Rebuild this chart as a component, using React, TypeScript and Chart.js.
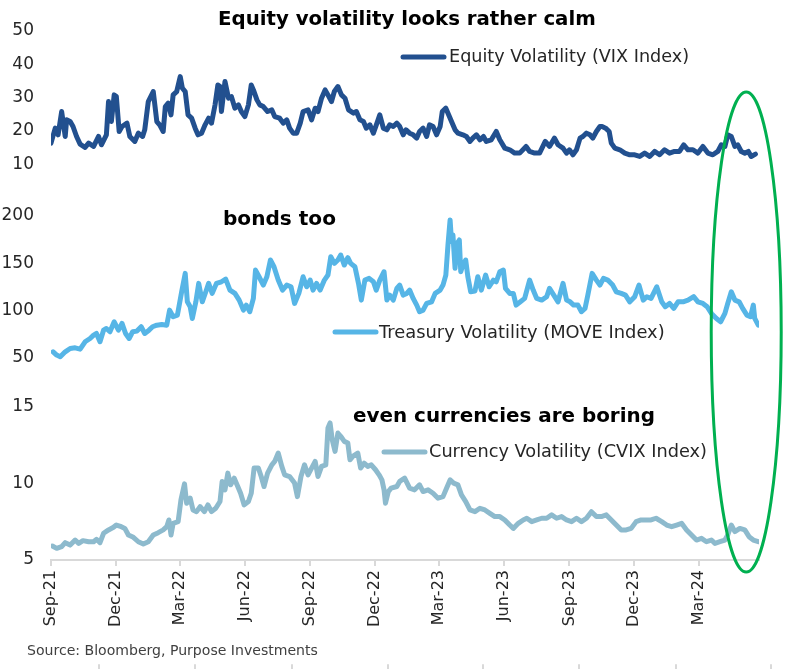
import React, { useEffect, useRef } from "react";
import { Chart, registerables } from "chart.js";

Chart.register(...registerables);

const FONT = '"DejaVu Sans", sans-serif';

// x axis: days since 1 Sep 2021
const START_DATE = "2021-09-01";
const tickDates = [
  "2021-09-01", "2021-12-01", "2022-03-01", "2022-06-01", "2022-09-01", "2022-12-01",
  "2023-03-01", "2023-06-01", "2023-09-01", "2023-12-01", "2024-03-01",
];
const tickLabels = [
  "Sep-21", "Dec-21", "Mar-22", "Jun-22", "Sep-22", "Dec-22",
  "Mar-23", "Jun-23", "Sep-23", "Dec-23", "Mar-24",
];
const axisEndDay = 997;

const vixTicks = [10, 20, 30, 40, 50];
const moveTicks = [50, 100, 150, 200];
const cvixTicks = [5, 10, 15];

const titles = ["Equity volatility looks rather calm", "bonds too", "even currencies are boring"];
const seriesNames = [
  "Equity Volatility (VIX Index)",
  "Treasury Volatility (MOVE Index)",
  "Currency Volatility (CVIX Index)",
];
const sourceText = "Source: Bloomberg, Purpose Investments";

// [day since start, value]
const vix: [number, number][] = [
  [0, 16.3], [6, 20.8], [10, 18.8], [15, 25.8], [20, 18.3], [22, 23.3], [27, 22.8], [31, 21.3],
  [36, 18.3], [41, 16.0], [48, 15.0], [53, 16.3], [60, 15.3], [67, 18.3], [71, 15.8], [78, 18.8],
  [81, 28.8], [85, 22.8], [89, 30.8], [92, 30.3], [96, 19.8], [100, 21.3], [107, 22.3], [111, 18.3],
  [118, 16.8], [123, 19.3], [129, 18.3], [132, 20.3], [137, 28.8], [144, 31.8], [149, 22.8], [153, 21.8],
  [158, 19.8], [161, 27.3], [165, 28.3], [169, 24.8], [172, 30.8], [177, 31.8], [182, 36.3], [185, 32.8],
  [189, 31.8], [193, 24.8], [198, 23.8], [203, 20.8], [207, 18.8], [212, 19.3], [217, 21.8], [222, 23.8],
  [226, 22.3], [231, 27.8], [235, 33.8], [238, 33.3], [240, 25.8], [245, 34.8], [250, 29.8], [254, 30.3],
  [259, 26.8], [264, 27.8], [268, 25.8], [273, 24.3], [278, 27.8], [282, 33.8], [285, 32.3], [290, 29.3],
  [294, 27.8], [299, 27.3], [305, 25.8], [311, 26.3], [315, 24.3], [322, 23.8], [327, 22.3], [332, 23.3],
  [336, 20.8], [341, 19.3], [346, 19.3], [351, 22.3], [355, 25.8], [362, 26.3], [367, 23.3], [372, 26.8],
  [376, 25.8], [381, 29.8], [386, 32.3], [390, 30.8], [395, 28.8], [399, 31.8], [404, 33.3], [409, 30.8],
  [414, 29.8], [419, 26.3], [426, 25.3], [430, 25.8], [435, 23.3], [440, 22.8], [444, 20.8], [449, 21.8],
  [454, 19.3], [459, 22.3], [463, 24.8], [468, 20.8], [473, 20.3], [477, 21.8], [482, 21.3], [487, 22.3],
  [491, 21.3], [496, 18.8], [500, 20.3], [505, 19.3], [510, 18.8], [515, 17.8], [519, 19.8], [524, 20.8],
  [529, 18.3], [533, 21.8], [538, 21.3], [543, 18.8], [548, 21.3], [551, 25.8], [556, 26.8], [561, 24.3],
  [564, 22.8], [569, 20.3], [573, 19.3], [580, 18.8], [585, 18.3], [590, 16.8], [594, 17.8], [599, 18.8],
  [604, 17.3], [609, 18.3], [613, 16.8], [620, 17.3], [627, 19.8], [632, 17.3], [639, 14.8], [646, 14.3],
  [653, 13.3], [660, 13.3], [669, 15.3], [674, 13.8], [681, 13.3], [688, 13.3], [696, 16.8], [702, 15.3],
  [709, 17.8], [714, 15.8], [721, 14.8], [726, 13.3], [730, 14.3], [735, 12.8], [740, 14.3], [745, 17.8],
  [749, 18.3], [754, 19.3], [759, 18.8], [763, 17.8], [768, 19.8], [773, 21.3], [776, 21.3], [781, 20.8],
  [786, 19.8], [789, 16.3], [794, 14.8], [801, 14.3], [808, 13.3], [815, 12.8], [822, 12.8], [829, 12.3],
  [836, 13.3], [843, 12.3], [850, 13.8], [857, 12.8], [864, 14.3], [871, 13.3], [878, 13.8], [885, 13.8],
  [891, 15.8], [897, 14.3], [904, 14.3], [911, 13.3], [918, 15.3], [925, 13.3], [932, 12.8], [939, 13.8],
  [944, 15.8], [949, 15.3], [953, 18.8], [958, 18.3], [963, 15.3], [967, 15.8], [972, 13.8], [977, 13.3],
  [982, 13.8], [986, 12.3], [992, 13.0],
];

const move: [number, number][] = [
  [3, 56.3], [8, 52.8], [13, 51.0], [20, 56.3], [27, 59.8], [34, 60.5], [41, 59.1], [48, 66.9],
  [55, 70.4], [60, 74.0], [64, 75.7], [69, 66.9], [74, 79.2], [78, 81.0], [83, 77.5], [89, 88.0],
  [95, 79.2], [100, 86.3], [105, 75.7], [110, 70.4], [115, 77.5], [121, 78.2], [127, 82.8], [132, 75.7],
  [138, 79.2], [143, 82.8], [149, 84.5], [156, 85.2], [163, 84.5], [167, 100.4], [172, 93.4], [178, 95.1],
  [184, 119.8], [189, 139.3], [192, 109.2], [196, 104.0], [199, 91.6], [204, 109.2], [208, 128.7], [213, 109.2],
  [218, 119.8], [222, 128.7], [227, 118.1], [233, 128.7], [240, 130.4], [246, 133.3], [252, 121.6], [259, 118.1],
  [265, 111.0], [271, 100.4], [275, 105.7], [280, 98.7], [285, 112.8], [288, 142.8], [293, 135.7], [299, 126.9],
  [304, 135.7], [309, 153.4], [314, 146.3], [320, 132.2], [326, 121.6], [332, 126.9], [338, 125.1], [343, 107.5],
  [349, 118.1], [355, 135.7], [360, 125.1], [365, 132.2], [369, 121.6], [374, 128.7], [379, 121.6], [385, 132.2],
  [390, 137.5], [394, 156.9], [399, 149.9], [404, 153.4], [408, 158.7], [413, 148.1], [418, 155.9], [422, 149.9],
  [428, 146.3], [433, 128.7], [437, 111.0], [442, 132.2], [448, 134.0], [454, 130.4], [458, 121.6], [463, 132.2],
  [469, 141.0], [473, 111.0], [477, 116.3], [482, 111.0], [487, 123.4], [491, 126.9], [496, 116.3], [501, 118.1],
  [505, 121.6], [510, 112.8], [515, 105.7], [519, 98.7], [524, 100.4], [529, 107.5], [536, 109.2], [541, 118.1],
  [548, 121.6], [552, 126.9], [556, 137.5], [559, 169.3], [562, 195.8], [564, 172.8], [566, 179.9], [569, 144.6],
  [572, 171.0], [575, 174.6], [577, 141.0], [580, 148.1], [584, 153.4], [587, 135.7], [591, 119.8], [597, 120.5],
  [601, 135.7], [606, 121.6], [612, 137.5], [617, 125.1], [623, 132.2], [627, 130.4], [632, 141.0], [637, 142.8],
  [640, 123.4], [646, 118.1], [651, 118.1], [655, 105.7], [661, 109.2], [667, 112.8], [674, 132.2], [679, 121.6],
  [684, 112.8], [691, 111.0], [698, 114.6], [702, 123.4], [708, 116.3], [714, 109.2], [721, 128.7], [726, 111.0],
  [731, 109.2], [736, 105.7], [742, 105.7], [747, 98.7], [752, 102.2], [756, 116.3], [762, 139.3], [768, 132.2],
  [773, 126.9], [778, 134.0], [784, 132.2], [791, 126.9], [796, 119.8], [803, 118.1], [809, 116.3], [815, 109.2],
  [822, 114.6], [828, 126.9], [834, 111.0], [839, 114.6], [845, 112.8], [853, 125.1], [860, 109.2], [865, 104.0],
  [871, 107.5], [877, 102.2], [883, 109.2], [890, 109.2], [897, 111.0], [905, 114.6], [911, 109.2], [918, 107.5],
  [924, 104.0], [930, 96.9], [937, 91.6], [943, 88.1], [949, 96.9], [953, 107.5], [958, 119.8], [963, 111.0],
  [969, 109.2], [974, 102.2], [980, 95.1], [985, 93.4], [989, 105.7], [991, 91.6], [996, 84.5],
];

const cvix: [number, number][] = [
  [2, 5.91], [8, 5.76], [15, 5.87], [20, 6.13], [27, 5.97], [34, 6.3], [39, 6.08], [45, 6.26],
  [53, 6.19], [60, 6.19], [64, 6.35], [69, 6.13], [74, 6.74], [81, 6.96], [88, 7.13], [92, 7.28],
  [99, 7.17], [104, 7.06], [109, 6.63], [116, 6.48], [123, 6.19], [130, 6.04], [137, 6.19], [144, 6.63],
  [151, 6.78], [158, 6.96], [163, 7.17], [166, 7.61], [169, 6.63], [172, 7.39], [179, 7.5], [183, 8.92],
  [188, 9.96], [191, 8.7], [196, 9.03], [200, 8.26], [205, 8.15], [210, 8.48], [216, 8.15], [221, 8.59],
  [226, 8.15], [232, 8.37], [238, 8.81], [241, 10.12], [245, 9.57], [249, 10.66], [253, 9.9], [258, 10.33],
  [263, 9.79], [267, 9.35], [272, 8.59], [278, 8.81], [282, 9.35], [286, 10.99], [292, 10.99], [296, 10.44],
  [300, 9.79], [305, 10.66], [311, 11.2], [315, 11.42], [320, 11.97], [325, 11.1], [329, 10.55], [336, 10.44],
  [343, 10.01], [347, 9.13], [352, 10.44], [357, 11.2], [362, 10.55], [367, 10.99], [372, 11.42], [376, 10.44],
  [381, 11.1], [387, 11.2], [390, 13.6], [393, 13.93], [396, 12.84], [400, 12.08], [404, 13.27], [408, 13.06],
  [413, 12.73], [418, 12.62], [421, 11.53], [425, 11.75], [432, 11.97], [436, 10.99], [441, 11.31], [446, 11.1],
  [451, 11.2], [457, 10.88], [462, 10.55], [466, 10.22], [469, 9.57], [471, 8.7], [475, 9.46], [479, 9.68],
  [487, 9.79], [491, 10.12], [498, 10.33], [505, 9.68], [512, 9.57], [519, 9.9], [524, 9.46], [531, 9.57],
  [538, 9.35], [545, 9.03], [552, 9.13], [557, 9.68], [562, 10.22], [567, 10.01], [573, 9.9], [578, 9.24],
  [584, 8.81], [590, 8.26], [597, 8.15], [604, 8.37], [611, 8.26], [618, 8.04], [625, 7.83], [632, 7.83],
  [639, 7.61], [646, 7.28], [651, 7.06], [658, 7.39], [665, 7.61], [670, 7.72], [677, 7.5], [684, 7.61],
  [691, 7.72], [698, 7.72], [705, 7.94], [712, 7.72], [719, 7.83], [726, 7.61], [733, 7.5], [740, 7.72],
  [747, 7.5], [754, 7.72], [761, 8.15], [768, 7.83], [775, 7.83], [782, 7.94], [789, 7.61], [796, 7.28],
  [803, 6.96], [810, 6.96], [817, 7.06], [824, 7.5], [831, 7.61], [838, 7.61], [845, 7.61], [852, 7.72],
  [860, 7.5], [867, 7.28], [874, 7.17], [881, 7.28], [888, 7.39], [895, 6.96], [902, 6.63], [909, 6.3],
  [916, 6.41], [923, 6.19], [930, 6.3], [935, 6.08], [942, 6.19], [949, 6.3], [953, 6.63], [958, 7.28],
  [963, 6.85], [970, 7.06], [977, 6.96], [983, 6.52], [989, 6.3], [996, 6.19],
];

const COLORS = ["#22508f", "#56b5e6", "#8dbacd"];
const highlightDay = 979;

const dayOf = (iso: string) => (Date.parse(iso) - Date.parse(START_DATE)) / 86400000;
const tickDays = tickDates.map(dayOf);

const decorPlugin = {
  id: "decor",
  afterDraw(chart: any) {
    const ctx: CanvasRenderingContext2D = chart.ctx;
    ctx.save();
    const fit = (text: string, weight: string, target: number) => {
      ctx.font = `${weight} 20px ${FONT}`;
      const w = ctx.measureText(text).width;
      const s = (20 * target) / w;
      ctx.font = `${weight} ${s.toFixed(2)}px ${FONT}`;
    };
    ctx.textAlign = "left";
    ctx.textBaseline = "alphabetic";

    // titles
    const titlePos = [
      [218, 25, 378],
      [223, 225, 113],
      [353, 422, 302],
    ];
    ctx.fillStyle = "#000000";
    titles.forEach((t, i) => {
      const [x, y, w] = titlePos[i];
      fit(t, "bold", w);
      ctx.fillText(t, x, y);
    });

    // legends
    const legendPos = [
      { x0: 403, x1: 444, ly: 57, tx: 449, ty: 62, w: 240 },
      { x0: 335, x1: 376, ly: 332, tx: 379, ty: 338, w: 286 },
      { x0: 384, x1: 425, ly: 452, tx: 429, ty: 457, w: 278 },
    ];
    seriesNames.forEach((n, i) => {
      const p = legendPos[i];
      ctx.strokeStyle = COLORS[i];
      ctx.lineWidth = 5;
      ctx.lineCap = "round";
      ctx.beginPath();
      ctx.moveTo(p.x0, p.ly);
      ctx.lineTo(p.x1, p.ly);
      ctx.stroke();
      ctx.fillStyle = "#262626";
      fit(n, "normal", p.w);
      ctx.fillText(n, p.tx, p.ty);
    });

    // source
    ctx.fillStyle = "#404040";
    fit(sourceText, "normal", 291);
    ctx.fillText(sourceText, 27, 655);

    // highlight ellipse
    const xs = chart.scales.x;
    const cx = xs.getPixelForValue(highlightDay);
    ctx.strokeStyle = "#00b050";
    ctx.lineWidth = 3;
    ctx.beginPath();
    ctx.ellipse(cx, 332, 35, 240, 0, 0, Math.PI * 2);
    ctx.stroke();

    // faint marks at bottom edge
    ctx.strokeStyle = "#d9d9d9";
    ctx.lineWidth = 2;
    [99, 195, 292, 388, 483, 579, 676, 771].forEach((x) => {
      ctx.beginPath();
      ctx.moveTo(x, 665);
      ctx.lineTo(x, 669);
      ctx.stroke();
    });
    ctx.restore();
  },
};

const yAxis = (ticks: number[], min: number, max: number, weight: number, stackWeight: number) => ({
  type: "linear" as const,
  position: "left" as const,
  stack: "panels",
  stackWeight,
  weight,
  min,
  max,
  afterBuildTicks: (s: any) => {
    s.ticks = ticks.map((v) => ({ value: v }));
  },
  afterFit: (s: any) => {
    s.width = 51;
  },
  grid: { display: false, drawTicks: false },
  border: { display: false },
  ticks: {
    padding: 17,
    color: "#262626",
    font: { family: FONT, size: 17 },
  },
});

export default function App() {
  const ref = useRef<HTMLCanvasElement | null>(null);

  useEffect(() => {
    if (!ref.current) return;
    const mk = (pts: [number, number][], i: number, axis: string, label: string) => ({
      label,
      data: pts.map(([x, y]) => ({ x, y })),
      yAxisID: axis,
      borderColor: COLORS[i],
      backgroundColor: COLORS[i],
      borderWidth: 5,
      pointRadius: 0,
      borderJoinStyle: "round" as const,
      borderCapStyle: "round" as const,
      tension: 0,
      fill: false,
    });
    const chart = new Chart(ref.current, {
      type: "line",
      data: {
        datasets: [
          mk(vix, 0, "yVix", seriesNames[0]),
          mk(move, 1, "yMove", seriesNames[1]),
          mk(cvix, 2, "yCvix", seriesNames[2]),
        ],
      },
      options: {
        responsive: false,
        animation: false,
        parsing: false as any,
        layout: { padding: { top: 31, left: 0, right: 41, bottom: 0 } },
        plugins: { legend: { display: false }, tooltip: { enabled: false }, title: { display: false } },
        scales: {
          x: {
            type: "linear",
            min: 0,
            max: axisEndDay,
            afterBuildTicks: (s: any) => {
              s.ticks = tickDays.map((v) => ({ value: v }));
            },
            afterFit: (s: any) => {
              s.height = 109;
            },
            grid: { drawOnChartArea: false, drawTicks: true, tickLength: 6, color: "#d9d9d9", lineWidth: 2 },
            border: { display: true, color: "#d9d9d9", width: 2 },
            ticks: {
              autoSkip: false,
              minRotation: 90,
              maxRotation: 90,
              padding: 4,
              color: "#262626",
              font: { family: FONT, size: 16 },
              callback: (_v: any, idx: number) => tickLabels[idx],
            },
          },
          yCvix: yAxis(cvixTicks, 5, 15.1, 1, 155),
          yMove: yAxis(moveTicks, 0, 200, 2, 189),
          yVix: yAxis(vixTicks, -5.6, 50, 3, 185),
        } as any,
      },
      plugins: [decorPlugin],
    });
    return () => chart.destroy();
  }, []);

  return (
    <div style={{ position: "absolute", left: 0, top: 0, width: 800, height: 669, background: "#fff" }}>
      <canvas ref={ref} width={800} height={669} style={{ display: "block" }} />
    </div>
  );
}
